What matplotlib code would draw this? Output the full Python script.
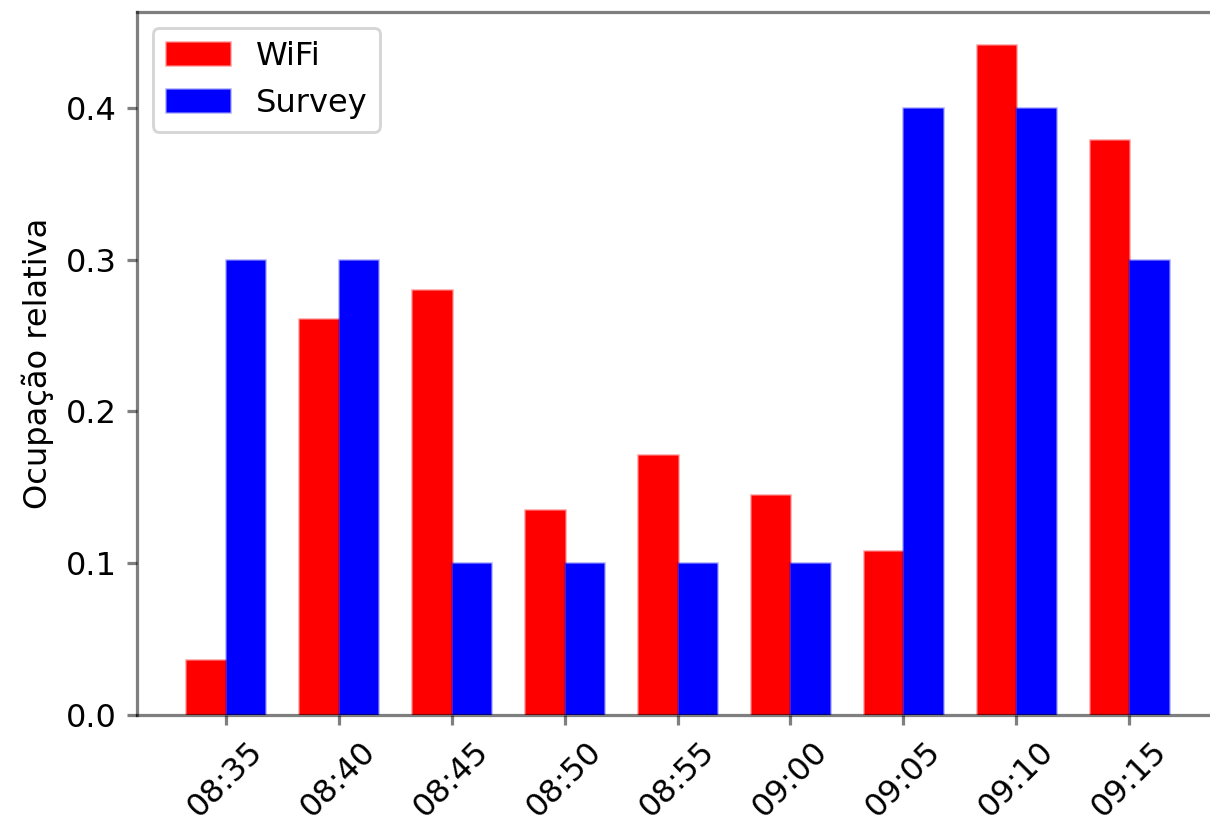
import matplotlib
matplotlib.use("Agg")
import matplotlib.pyplot as plt
import numpy as np

times = ["08:35", "08:40", "08:45", "08:50", "08:55", "09:00", "09:05", "09:10", "09:15"]
wifi = [0.036, 0.261, 0.280, 0.135, 0.171, 0.145, 0.108, 0.441, 0.379]
survey = [0.3, 0.3, 0.1, 0.1, 0.1, 0.1, 0.4, 0.4, 0.3]

plt.rcParams["font.size"] = 11

W, H, DPI = 1210, 820, 210
fig = plt.figure(figsize=(W / DPI, H / DPI), dpi=DPI)
ax = fig.add_axes([137 / W, 105 / H, (1218 - 137) / W, (715 - 12) / H])

x = np.arange(len(times))
width = 0.35
ax.bar(x - width / 2, wifi, width, color="red", edgecolor=(1, 0, 0, 0.35), linewidth=0.9, label="WiFi")
ax.bar(x + width / 2, survey, width, color="blue", edgecolor=(0, 0, 1, 0.3), linewidth=0.9, label="Survey")

ax.set_xticks(x)
ax.set_xticklabels(times, rotation=45)
ax.set_ylabel("Ocupação relativa")
ax.set_yticks([0.0, 0.1, 0.2, 0.3, 0.4])

spine_col = (0, 0, 0, 0.5)
for s in ax.spines.values():
    s.set_color(spine_col)
    s.set_linewidth(1.1)
ax.tick_params(color=spine_col, width=1.1)

ax.legend(loc="upper left")

fig.savefig("out.png", dpi=DPI)
